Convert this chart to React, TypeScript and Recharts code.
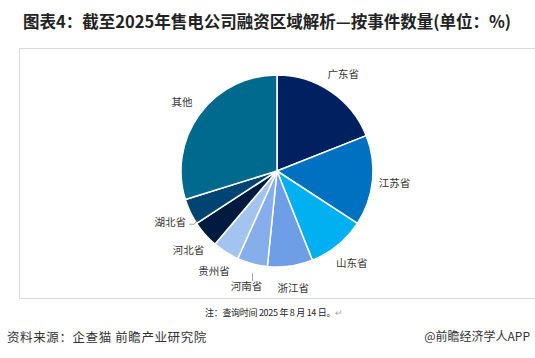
import React from 'react';
import { PieChart, Pie, Cell } from 'recharts';

const provinces = ['广东省', '江苏省', '山东省', '浙江省', '河南省', '贵州省', '河北省', '湖北省', '其他'];
const shares = [19.0, 15.2, 9.8, 7.6, 5.1, 4.5, 4.6, 4.4, 29.8];
const sliceColors = ['#002060', '#0070C0', '#00B0F0', '#6D9EE6', '#86AEEA', '#A3C4F0', '#001A40', '#004472', '#00698E'];

const data = provinces.map((name, i) => ({ name, value: shares[i] }));

const RADIAN = Math.PI / 180;

const renderLabel = (props: any) => {
    const { cx, cy, midAngle, outerRadius, name } = props;
    const r = outerRadius + 22;
    const x = cx + r * Math.cos(-midAngle * RADIAN);
    const y = cy + r * Math.sin(-midAngle * RADIAN);
    let leader = null;
    if (name === '河南省') {
        leader = <line x1={x + 6} y1={y - 12} x2={x + 6} y2={y - 4} stroke="#8c8c8c" strokeWidth={0.8} />;
    } else if (name === '湖北省') {
        leader = <polyline points={`${x + 19},${y + 3} ${x + 24},${y + 3} ${x + 27},${y - 1}`} fill="none" stroke="#8c8c8c" strokeWidth={0.8} />;
    }
    return (
        <g>
            {leader}
            <text x={x} y={y} textAnchor="middle" dominantBaseline="central" fontSize={10.5} fill="#333" fontFamily="'Noto Sans CJK SC', sans-serif">
                {name}
            </text>
        </g>
    );
};

const App: React.FC = () => {
    return (
        <div style={{ position: 'fixed', left: 0, top: 0, width: 535, height: 358, background: '#fff', overflow: 'hidden', fontFamily: "'Noto Sans CJK SC', sans-serif" }}>
            <div style={{ position: 'absolute', left: 23, top: 9, fontSize: 16.5, fontWeight: 700, color: '#222', whiteSpace: 'nowrap' }}>
                图表4：截至2025年售电公司融资区域解析—按事件数量(单位：%)
            </div>
            <div style={{ position: 'absolute', left: 19, top: 48, width: 530, height: 251, border: '1px solid #d9d9d9', boxSizing: 'border-box' }} />
            <div style={{ position: 'absolute', left: 0, top: 0 }}>
                <PieChart width={535} height={358} margin={{ top: 0, right: 0, bottom: 0, left: 0 }}>
                    <Pie
                        data={data}
                        dataKey="value"
                        nameKey="name"
                        cx={277}
                        cy={171}
                        outerRadius={96}
                        startAngle={90}
                        endAngle={-270}
                        stroke="#fff"
                        strokeWidth={1.5}
                        label={renderLabel}
                        labelLine={false}
                        isAnimationActive={false}
                    >
                        {data.map((d, i) => (
                            <Cell key={d.name} fill={sliceColors[i]} />
                        ))}
                    </Pie>
                </PieChart>
            </div>
            <div style={{ position: 'absolute', left: 205, top: 306, fontSize: 9, color: '#222', whiteSpace: 'nowrap', letterSpacing: -0.3, fontFamily: "'Noto Sans CJK SC', serif" }}>
                注：查询时间 2025 年 8 月 14 日。<span style={{ color: '#aaa' }}>↵</span>
            </div>
            <div style={{ position: 'absolute', left: 7, top: 327, fontSize: 12.5, color: '#333', whiteSpace: 'nowrap', letterSpacing: 0.6 }}>
                资料来源：企查猫 前瞻产业研究院
            </div>
            <div style={{ position: 'absolute', right: 5, top: 327, fontSize: 12, color: '#333', whiteSpace: 'nowrap' }}>
                @前瞻经济学人APP
            </div>
        </div>
    );
};

export default App;
